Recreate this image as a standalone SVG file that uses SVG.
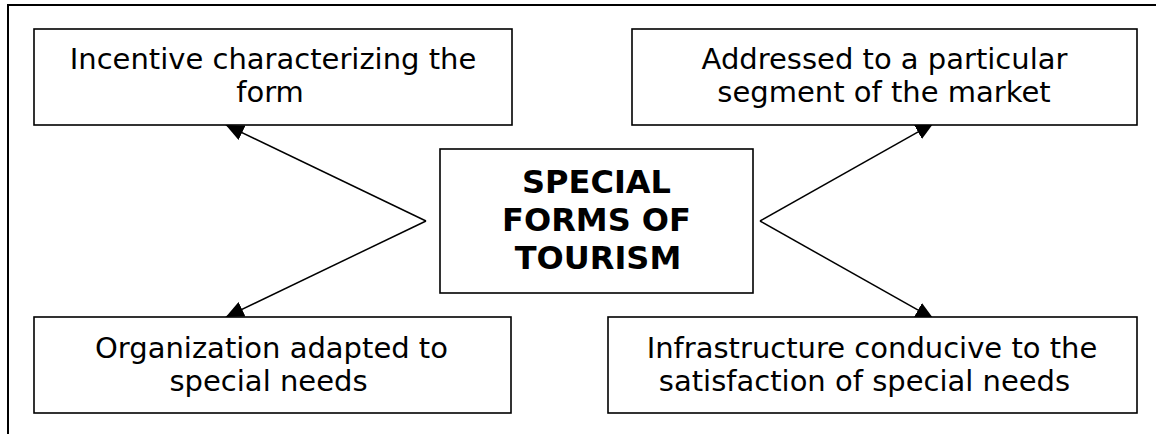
<svg xmlns="http://www.w3.org/2000/svg" width="1156" height="434" viewBox="0 0 1156 434">
<style>
  .frame{fill:none;stroke:#000;stroke-width:2}
  .box{fill:#fff;stroke:#000;stroke-width:1.6}
  .conn{fill:none;stroke:#000;stroke-width:1.5}
  .t{font-family:"DejaVu Sans",Verdana,sans-serif;font-size:29px;fill:#000;text-anchor:middle}
  .tb{font-family:"DejaVu Sans",Verdana,sans-serif;font-size:32px;font-weight:bold;fill:#000;text-anchor:middle}
</style>
<defs>
  <marker id="arrow" markerUnits="userSpaceOnUse" markerWidth="18" markerHeight="16" refX="18" refY="8" orient="auto">
    <path d="M0,0 L18,8 L0,16 z" fill="#000"/>
  </marker>
</defs>
<rect width="1156" height="434" fill="#fff"/>
<path class="frame" d="M8,434 V5 H1156"/>
<g id="connectors">
  <line class="conn" x1="426" y1="221" x2="225.8" y2="124.9" marker-end="url(#arrow)"/>
  <line class="conn" x1="426" y1="221" x2="225.8" y2="317.1" marker-end="url(#arrow)"/>
  <line class="conn" x1="760" y1="221" x2="933.7" y2="123.1" marker-end="url(#arrow)"/>
  <line class="conn" x1="760" y1="221" x2="933.7" y2="318.9" marker-end="url(#arrow)"/>
</g>
<g id="node-incentive">
  <rect class="box" x="34" y="29" width="478" height="96"/>
  <text class="t" x="273" y="69">Incentive characterizing the</text>
  <text class="t" x="270" y="102">form</text>
</g>
<g id="node-addressed">
  <rect class="box" x="632" y="29" width="505" height="96"/>
  <text class="t" x="884.5" y="69">Addressed to a particular</text>
  <text class="t" x="884" y="102">segment of the market</text>
</g>
<g id="node-center">
  <rect class="box" x="440" y="149" width="313" height="144"/>
  <text class="tb" x="596.5" y="193">SPECIAL</text>
  <text class="tb" x="596.5" y="231">FORMS OF</text>
  <text class="tb" x="598" y="269">TOURISM</text>
</g>
<g id="node-organization">
  <rect class="box" x="34" y="317" width="477" height="96"/>
  <text class="t" x="271.5" y="358">Organization adapted to</text>
  <text class="t" x="268.5" y="391">special needs</text>
</g>
<g id="node-infrastructure">
  <rect class="box" x="608" y="317" width="529" height="96"/>
  <text class="t" x="872" y="358">Infrastructure conducive to the</text>
  <text class="t" x="864.5" y="391">satisfaction of special needs</text>
</g>
</svg>
